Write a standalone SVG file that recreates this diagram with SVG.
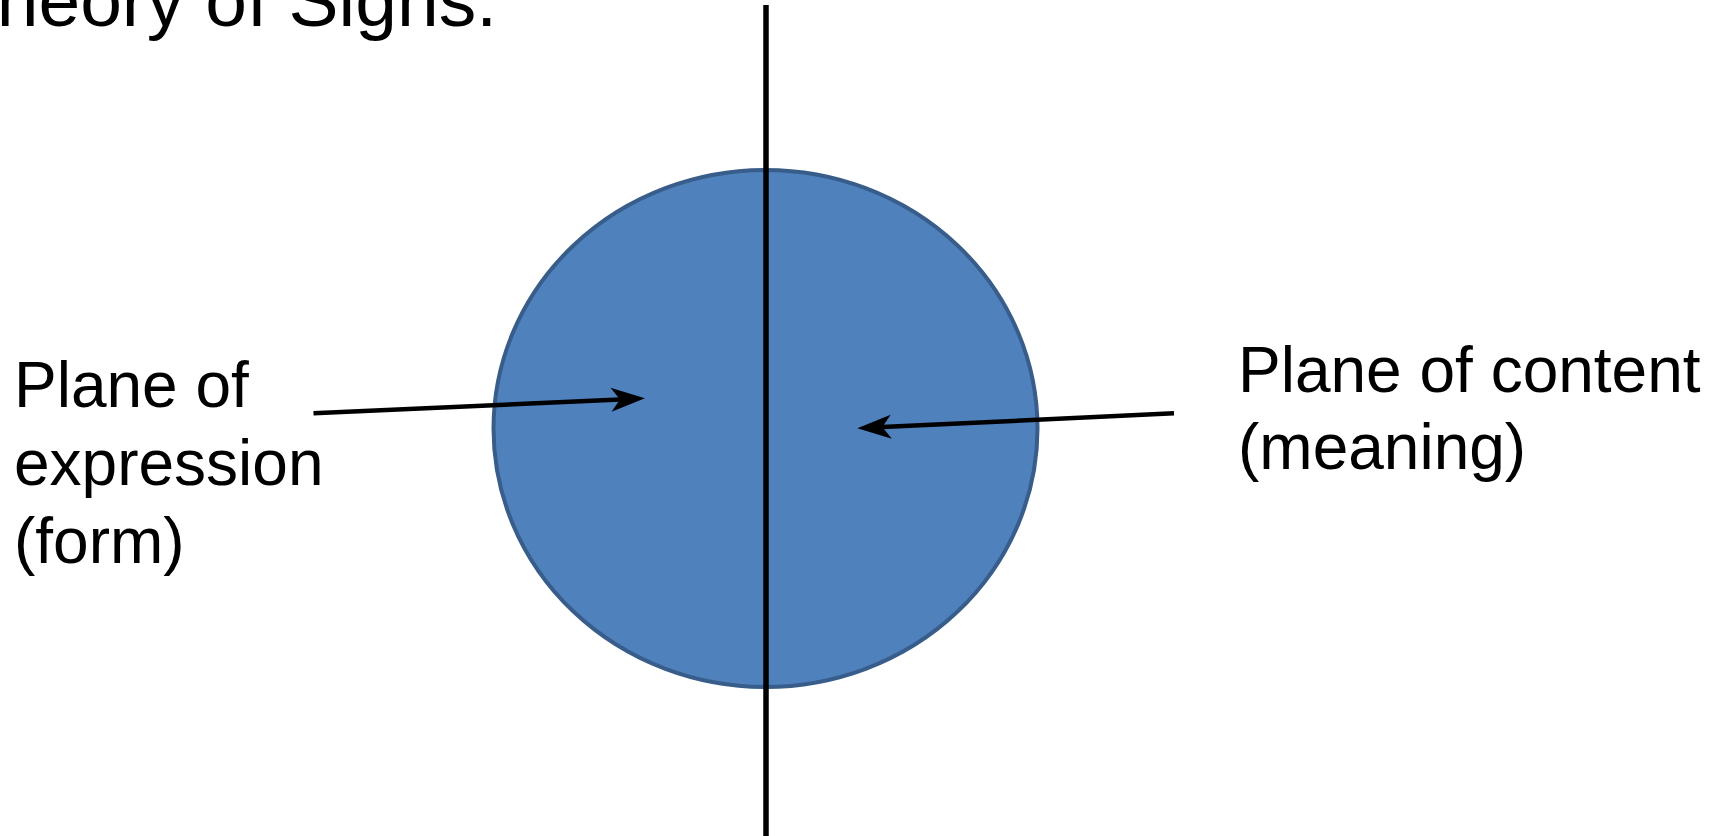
<svg xmlns="http://www.w3.org/2000/svg" width="1719" height="836" viewBox="0 0 1719 836">
<style>
  .lbl { font-family: "Liberation Sans", Arial, sans-serif; font-size: 64px; fill: #000; }
  .title { font-family: "Liberation Sans", Arial, sans-serif; font-size: 75px; fill: #000; }
  .conn { stroke: #000; stroke-width: 4.5; fill: none; }
</style>
<defs>
  <marker id="arr" markerUnits="userSpaceOnUse" markerWidth="40" markerHeight="30" refX="0" refY="0" viewBox="-12 -15 40 30" orient="auto" overflow="visible">
    <path d="M25,0 L-9,-12 L0,0 L-9,12 Z" fill="#000"/>
  </marker>
</defs>
<rect width="1719" height="836" fill="#fff"/>
<text class="title" x="497" y="26" text-anchor="end">heory of Signs.</text>
<g id="sign">
  <ellipse cx="765.5" cy="428.5" rx="272" ry="258.5" fill="#4F81BD" stroke="#385D8A" stroke-width="4"/>
</g>
<g id="expression">
  <text class="lbl" x="14" y="407">Plane of</text>
  <text class="lbl" x="14" y="485">expression</text>
  <text class="lbl" x="14" y="563">(form)</text>
</g>
<g id="content">
  <text class="lbl" x="1238" y="392">Plane of content</text>
  <text class="lbl" x="1238" y="469">(meaning)</text>
</g>
<g id="connectors">
  <line x1="766" y1="5" x2="766" y2="836" stroke="#000" stroke-width="5.5"/>
  <line class="conn" x1="313.5" y1="413.3" x2="620" y2="399.4" marker-end="url(#arr)"/>
  <line class="conn" x1="1174" y1="413.3" x2="882.3" y2="427.1" marker-end="url(#arr)"/>
</g>
</svg>
